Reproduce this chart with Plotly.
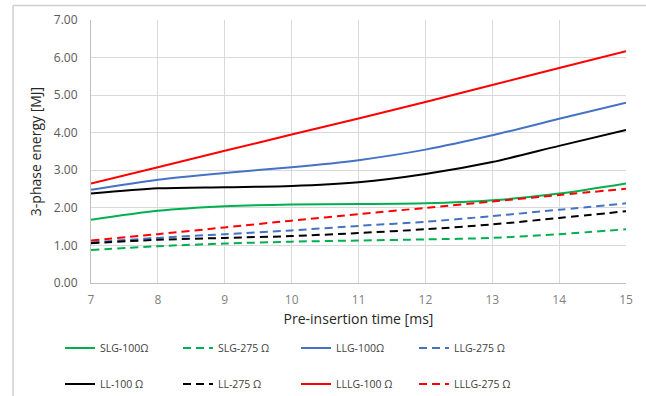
import plotly.graph_objects as go

x_ms = [7, 8, 9, 10, 11, 12, 13, 14, 15]

slg_100 = [1.68, 1.92, 2.04, 2.09, 2.10, 2.12, 2.20, 2.38, 2.65]
slg_275 = [0.88, 0.98, 1.05, 1.10, 1.13, 1.16, 1.20, 1.30, 1.43]
llg_100 = [2.48, 2.75, 2.93, 3.08, 3.27, 3.55, 3.93, 4.37, 4.80]
llg_275 = [1.08, 1.20, 1.30, 1.40, 1.52, 1.63, 1.78, 1.95, 2.12]
ll_100 = [2.38, 2.52, 2.55, 2.58, 2.68, 2.90, 3.22, 3.65, 4.07]
ll_275 = [1.06, 1.15, 1.20, 1.25, 1.33, 1.43, 1.56, 1.73, 1.91]
lllg_100 = [2.65, 3.08, 3.52, 3.95, 4.38, 4.82, 5.27, 5.72, 6.17]
lllg_275 = [1.13, 1.30, 1.48, 1.66, 1.83, 2.00, 2.17, 2.34, 2.51]

y_ticks = [0, 1, 2, 3, 4, 5, 6, 7]

series = [
    ("SLG-100Ω", slg_100, "#00B050", "solid", "legend"),
    ("SLG-275 Ω", slg_275, "#00B050", "8px,5px", "legend"),
    ("LLG-100Ω", llg_100, "#4472C4", "solid", "legend"),
    ("LLG-275 Ω", llg_275, "#4472C4", "8px,5px", "legend"),
    ("LL-100 Ω", ll_100, "#000000", "solid", "legend2"),
    ("LL-275 Ω", ll_275, "#000000", "8px,5px", "legend2"),
    ("LLLG-100 Ω", lllg_100, "#FF0000", "solid", "legend2"),
    ("LLLG-275 Ω", lllg_275, "#FF0000", "8px,5px", "legend2"),
]

fig = go.Figure()
for name, vals, col, dash, leg in series:
    fig.add_trace(go.Scatter(
        x=x_ms, y=vals, name=name, mode="lines",
        line=dict(color=col, width=2, dash=dash, shape="spline", smoothing=0.8),
        legend=leg,
    ))

W, H = 646, 396
L, R, T, B = 91, 20, 20, 113
pw = W - L - R
ph = H - T - B

def px(xp):
    return (xp - L) / pw

def py(yp):
    return (H - B - yp) / ph

font_main = "Open Sans, Liberation Sans, sans-serif"

leg_common = dict(
    orientation="h", xanchor="left", yanchor="middle",
    entrywidth=73, entrywidthmode="pixels",
    font=dict(family=font_main, size=10.5, color="#404040"),
    bgcolor="rgba(0,0,0,0)", traceorder="normal",
)

border = dict(color="#CFCFCF", width=1.5)

fig.update_layout(
    width=W, height=H,
    margin=dict(l=L, r=R, t=T, b=B, autoexpand=False),
    paper_bgcolor="white", plot_bgcolor="white",
    font=dict(family=font_main, size=11, color="#595959"),
    xaxis=dict(
        range=[7, 15], tickvals=x_ms, showgrid=True, gridcolor="#D9D9D9",
        gridwidth=1, zeroline=False, showline=True, linecolor="#BFBFBF",
        linewidth=1, ticks="", tickfont=dict(size=12, color="#7F7F7F"),
        ticklabelstandoff=6, automargin=False,
        title=dict(text="Pre-insertion time [ms]", standoff=6,
                   font=dict(size=14, color="#262626")),
    ),
    yaxis=dict(
        range=[0, 7], tickvals=y_ticks, tickformat=".2f", showgrid=True,
        gridcolor="#D9D9D9", gridwidth=1, zeroline=False, showline=True,
        linecolor="#BFBFBF", linewidth=1, ticks="",
        tickfont=dict(size=12, color="#595959"),
        ticklabelstandoff=10, automargin=False,
        title=dict(text="3-phase energy [MJ]", standoff=8,
                   font=dict(size=14, color="#262626")),
    ),
    legend=dict(x=px(60), y=py(348), **leg_common),
    legend2=dict(x=px(60), y=py(384), **leg_common),
    shapes=[
        dict(type="line", xref="paper", yref="paper",
             x0=px(13), x1=px(646), y0=py(5.5), y1=py(5.5), line=border),
        dict(type="line", xref="paper", yref="paper",
             x0=px(13), x1=px(13), y0=py(5.5), y1=py(396), line=border),
    ],
)

fig.write_html(
    "out.html",
    config={"displayModeBar": False},
    post_script="document.body.style.margin='0';document.body.style.overflow='hidden';",
)
